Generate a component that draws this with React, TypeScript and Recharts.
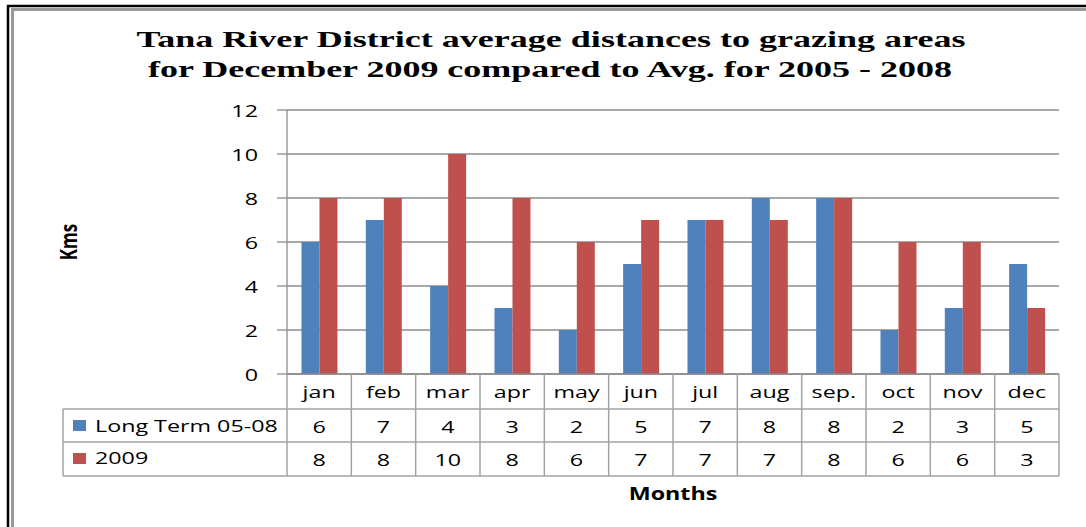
import React from 'react';
import { BarChart, Bar, XAxis, YAxis, CartesianGrid } from 'recharts';

// chart values
const months = ['jan', 'feb', 'mar', 'apr', 'may', 'jun', 'jul', 'aug', 'sep.', 'oct', 'nov', 'dec'];
const longTerm = [6, 7, 4, 3, 2, 5, 7, 8, 8, 2, 3, 5];
const year2009 = [8, 8, 10, 8, 6, 7, 7, 7, 8, 6, 6, 3];
const yTicks = [0, 2, 4, 6, 8, 10, 12];
const seriesNames = ['Long Term 05-08', '2009'];
const titleLines = [
  'Tana River District average distances to grazing areas',
  'for December 2009 compared to Avg. for 2005 - 2008',
];
const yTitle = 'Kms';
const xTitle = 'Months';

const chartData = months.map((m, i) => ({ month: m, longTerm: longTerm[i], y2009: year2009[i] }));

// layout
const W = 1086;
const H = 527;
const PLOT_LEFT = 287;
const PLOT_RIGHT = 1059;
const PLOT_TOP = 110;
const PLOT_BOTTOM = 374;
const ROW1 = 409;
const ROW2 = 442;
const TABLE_BOTTOM = 476;
const LEGEND_LEFT = 63;
const BAND = (PLOT_RIGHT - PLOT_LEFT) / months.length;

const BLUE = '#4F81BD';
const RED = '#C0504D';
const GRID = '#8c8c8c';
const TABLE = '#a3a3a3';
const SANS = '"Open Sans", sans-serif';
const SX = 1.37;

function Stretch({ x, y, anchor = 'middle', bold = false, size = 17, children }: any) {
  return (
    <text
      transform={`translate(${x},${y}) scale(${SX},1)`}
      textAnchor={anchor}
      dominantBaseline="central"
      fontFamily={SANS}
      fontSize={size}
      fontWeight={bold ? 700 : 400}
      fill="#000"
    >
      {children}
    </text>
  );
}

function MonthTick(props: any) {
  const { x, payload } = props;
  const i = payload.index;
  return (
    <g>
      <Stretch x={x} y={391}>{payload.value}</Stretch>
      <Stretch x={x} y={426}>{longTerm[i]}</Stretch>
      <Stretch x={x} y={459}>{year2009[i]}</Stretch>
      <line x1={x + BAND / 2} x2={x + BAND / 2} y1={PLOT_BOTTOM} y2={TABLE_BOTTOM} stroke={TABLE} strokeWidth={1.5} />
    </g>
  );
}

function ValueTick(props: any) {
  const { y, payload } = props;
  return <Stretch x={258} y={y} anchor="end">{payload.value}</Stretch>;
}

function Backdrop() {
  return (
    <svg width={W} height={H} style={{ position: 'absolute', left: 0, top: 0 }}>
      <rect x={0} y={0} width={W} height={H} fill="#fff" />
      {/* frame */}
      <line x1={8} x2={8} y1={5} y2={H} stroke="#000" strokeWidth={2.5} />
      <line x1={7} x2={W} y1={6} y2={6} stroke="#000" strokeWidth={2.5} />
      <line x1={12.5} x2={12.5} y1={9} y2={H} stroke="#999" strokeWidth={3} />
      <line x1={11} x2={W} y1={9.5} y2={9.5} stroke="#999" strokeWidth={3} />
      {/* title */}
      <text x={551} y={47} textAnchor="middle" fontFamily='"Liberation Serif", serif' fontWeight={700} fontSize={24}
        textLength={829} lengthAdjust="spacingAndGlyphs">{titleLines[0]}</text>
      <text x={550} y={77} textAnchor="middle" fontFamily='"Liberation Serif", serif' fontWeight={700} fontSize={24}
        textLength={804} lengthAdjust="spacingAndGlyphs">{titleLines[1]}</text>
      {/* axis titles */}
      <text transform={`translate(68,242) scale(${SX},1) rotate(-90)`} textAnchor="middle" dominantBaseline="central"
        fontFamily={SANS} fontWeight={700} fontSize={17}>{yTitle}</text>
      <Stretch x={673} y={493} bold size={17}>{xTitle}</Stretch>
      {/* data table legend column */}
      <line x1={LEGEND_LEFT} x2={PLOT_RIGHT} y1={ROW1} y2={ROW1} stroke={TABLE} strokeWidth={1.5} />
      <line x1={LEGEND_LEFT} x2={PLOT_RIGHT} y1={ROW2} y2={ROW2} stroke={TABLE} strokeWidth={1.5} />
      <line x1={LEGEND_LEFT} x2={PLOT_RIGHT} y1={TABLE_BOTTOM} y2={TABLE_BOTTOM} stroke={TABLE} strokeWidth={1.5} />
      <line x1={LEGEND_LEFT} x2={LEGEND_LEFT} y1={ROW1} y2={TABLE_BOTTOM} stroke={TABLE} strokeWidth={1.5} />
      <line x1={PLOT_LEFT} x2={PLOT_LEFT} y1={PLOT_BOTTOM} y2={TABLE_BOTTOM} stroke={TABLE} strokeWidth={1.5} />
      <rect x={73} y={420} width={13} height={11} fill={BLUE} />
      <rect x={73} y={453} width={13} height={11} fill={RED} />
      <Stretch x={95} y={425} anchor="start">{seriesNames[0]}</Stretch>
      <Stretch x={95} y={457} anchor="start">{seriesNames[1]}</Stretch>
    </svg>
  );
}

export default function App() {
  return (
    <div style={{ position: 'absolute', left: 0, top: 0, width: W, height: H, background: '#fff' }}>
      <Backdrop />
      <div style={{ position: 'absolute', left: 0, top: 0 }}>
        <BarChart
          width={W}
          height={H}
          data={chartData}
          margin={{ top: PLOT_TOP, right: W - PLOT_RIGHT, left: PLOT_LEFT - 60, bottom: 0 }}
          barCategoryGap="22.5%"
          barGap={0}
        >
          <CartesianGrid vertical={false} stroke={GRID} strokeWidth={1.3} />
          <XAxis
            dataKey="month"
            height={H - PLOT_BOTTOM}
            interval={0}
            axisLine={{ stroke: GRID, strokeWidth: 1.3 }}
            tickLine={false}
            tick={<MonthTick />}
          />
          <YAxis
            width={60}
            domain={[0, 12]}
            ticks={yTicks}
            interval={0}
            tickSize={10}
            axisLine={{ stroke: GRID, strokeWidth: 1.3 }}
            tickLine={{ stroke: GRID, strokeWidth: 1.3 }}
            tick={<ValueTick />}
          />
          <Bar dataKey="longTerm" name={seriesNames[0]} fill={BLUE} isAnimationActive={false} />
          <Bar dataKey="y2009" name={seriesNames[1]} fill={RED} isAnimationActive={false} />
        </BarChart>
      </div>
    </div>
  );
}
